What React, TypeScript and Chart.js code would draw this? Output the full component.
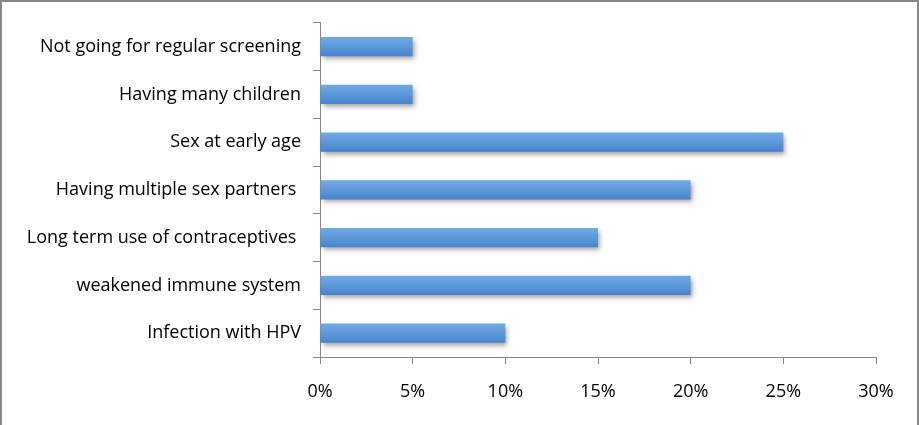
import React, { useEffect, useRef } from "react";
import { Chart, registerables } from "chart.js";

Chart.register(...registerables);

const categories = [
  "Not going for regular screening",
  "Having many children",
  "Sex at early age",
  "Having multiple sex partners ",
  "Long term use of contraceptives ",
  "weakened immune system",
  "Infection with HPV",
];
const values = [5, 5, 25, 20, 15, 20, 10];
const xMax = 30;
const xStep = 5;

const AXIS_COLOR = "#868686";
const FONT = "'Open Sans', Lato, sans-serif";

const shadowPlugin = {
  id: "barShadow",
  beforeDatasetDraw(chart: any) {
    const ctx = chart.ctx;
    ctx.save();
    ctx.shadowColor = "rgba(0,0,0,0.38)";
    ctx.shadowBlur = 5;
    ctx.shadowOffsetX = 2;
    ctx.shadowOffsetY = 3;
  },
  afterDatasetDraw(chart: any) {
    chart.ctx.restore();
  },
};

export default function App() {
  const ref = useRef<HTMLCanvasElement | null>(null);

  useEffect(() => {
    document.body.style.margin = "0";
    const canvas = ref.current;
    if (!canvas) return;
    const chart = new Chart(canvas, {
      type: "bar",
      data: {
        labels: categories,
        datasets: [
          {
            data: values,
            backgroundColor: (context: any) => {
              const c = context.chart;
              const yScale = c.scales && c.scales.y;
              const fallback = "#5a97d8";
              if (!yScale || !c.chartArea) return fallback;
              const yc = yScale.getPixelForValue(context.dataIndex);
              if (!isFinite(yc)) return fallback;
              const g = c.ctx.createLinearGradient(0, yc - 10, 0, yc + 10);
              g.addColorStop(0, "#72abe3");
              g.addColorStop(0.5, "#5c99da");
              g.addColorStop(1, "#4682ca");
              return g;
            },
            borderWidth: 0,
            categoryPercentage: 1,
            barPercentage: 0.4,
          },
        ],
      },
      options: {
        indexAxis: "y",
        animation: false,
        responsive: false,
        devicePixelRatio: 1,
        layout: { padding: { top: 22, right: 43, left: 0, bottom: 0 } },
        plugins: { legend: { display: false }, tooltip: { enabled: false } },
        scales: {
          x: {
            min: 0,
            max: xMax,
            ticks: {
              stepSize: xStep,
              callback: (v: any) => v + "%",
              color: "#000",
              font: { family: FONT, size: 18 },
              padding: 17,
            },
            grid: {
              drawOnChartArea: false,
              drawTicks: true,
              tickLength: 7,
              color: AXIS_COLOR,
            },
            border: { color: AXIS_COLOR, width: 1 },
            afterFit: (scale: any) => {
              scale.height = 425 - 357;
            },
          },
          y: {
            ticks: {
              color: "#000",
              font: { family: FONT, size: 18 },
              padding: 12,
            },
            grid: {
              drawOnChartArea: false,
              drawTicks: true,
              tickLength: 7,
              color: AXIS_COLOR,
              offset: true,
            },
            border: { color: AXIS_COLOR, width: 1 },
            afterFit: (scale: any) => {
              scale.width = 320;
            },
          },
        },
      },
      plugins: [shadowPlugin],
    } as any);
    return () => chart.destroy();
  }, []);

  return (
    <div style={{ position: "relative", width: 919, height: 425, background: "#fff" }}>
      <canvas ref={ref} width={919} height={425} style={{ display: "block" }} />
      <div
        style={{
          position: "absolute",
          left: 0,
          top: 0,
          width: 919,
          height: 440,
          boxSizing: "border-box",
          border: "2px solid #888",
          pointerEvents: "none",
        }}
      />
    </div>
  );
}
